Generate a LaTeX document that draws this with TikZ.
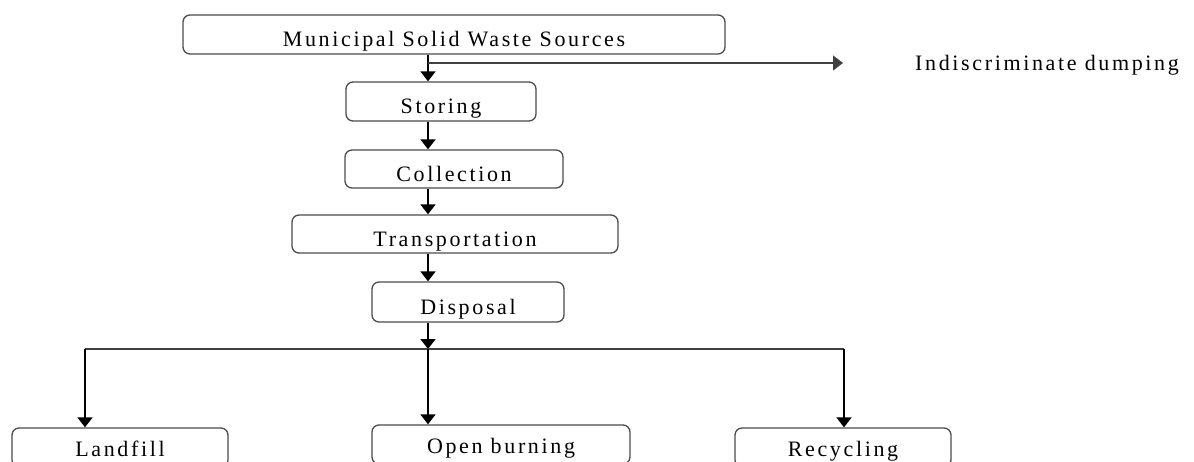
\documentclass[tikz,border=0pt]{standalone}
\usepackage{fontspec}
\setmainfont{Liberation Serif}[LetterSpace=12]
\usetikzlibrary{arrows.meta}

\begin{document}
\begin{tikzpicture}[x=1pt, y=-1pt,
    stage/.style={draw=black!70, line width=1.3pt, rounded corners=7pt, inner sep=0pt,
        minimum height=39pt, text height=24pt, text depth=0pt, font=\fontsize{22}{26}\selectfont},
    flow/.style={line width=1.7pt, -{Triangle[length=10pt,width=15pt]}},
    link/.style={line width=1.3pt, black!75}]
\clip (0,0) rectangle (1194,461);

% the chain of stages
\node[stage, minimum width=542pt] (sources) at (454,34.5) {Municipal Solid Waste Sources};
\node[stage, minimum width=190pt] (storing) at (441,101.5) {Storing};
\node[stage, minimum width=218pt, minimum height=38pt] (collection) at (454,169) {Collection};
\node[stage, minimum width=326pt, minimum height=38pt] (transport) at (455,234) {Transportation};
\node[stage, minimum width=192pt, minimum height=40pt] (disposal) at (468,302) {Disposal};

% end points
\node[stage, text height=17pt, minimum width=216pt] (landfill) at (120,447.5) {Landfill};
\node[stage, text height=17pt, minimum width=258pt] (burning) at (501,444.5) {Open burning};
\node[stage, text height=17pt, minimum width=216pt] (recycling) at (843,447.5) {Recycling};
\node[anchor=base west, inner sep=0pt, font=\fontsize{22}{26}\selectfont] (dumping) at (915,70.5) {Indiscriminate dumping};

\coordinate (trunk) at (428,63);
\coordinate (fork) at (428,349);
\coordinate (forkleft) at (85,349);
\coordinate (forkright) at (844,349);

\draw[flow] (sources.south -| trunk) -- (storing.north -| trunk);
\draw[flow, line width=1.3pt, black!75] (trunk) -- ([xshift=-72pt]dumping.west |- trunk);
\draw[flow] (storing.south -| trunk) -- (collection.north -| trunk);
\draw[flow] (collection.south -| trunk) -- (transport.north -| trunk);
\draw[flow] (transport.south -| trunk) -- (disposal.north -| trunk);

% split after disposal
\draw[flow] (disposal.south -| fork) -- (fork);
\draw[link] (forkleft) -- (forkright);
\draw[flow] (forkleft) -- (landfill.north -| forkleft);
\draw[flow] (fork) -- (burning.north -| fork);
\draw[flow] (forkright) -- (recycling.north -| forkright);
\end{tikzpicture}
\end{document}
